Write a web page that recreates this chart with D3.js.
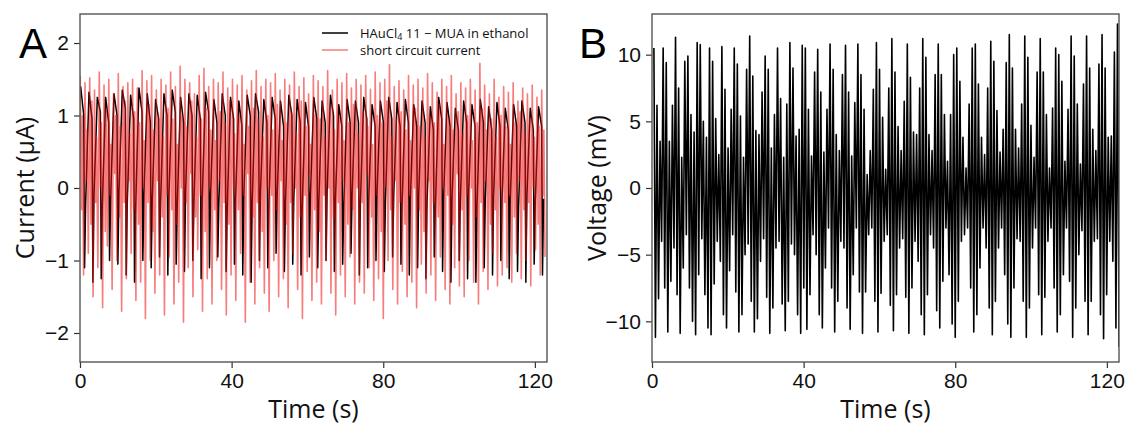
<!DOCTYPE html>
<html><head><meta charset="utf-8">
<script src="https://cdn.jsdelivr.net/npm/d3@7"></script>
<style>body{margin:0;background:#fff}svg{display:block}</style>
</head><body><svg id="c" width="1132" height="425"></svg>
<script>
// ---------- data ----------
const xTicks = [0, 40, 80, 120];
const aYTicks = [-2, -1, 0, 1, 2];
const bYTicks = [-10, -5, 0, 5, 10];
const legendLabels = ["HAuCl4 11 − MUA in ethanol", "short circuit current"];

// Panel A, black series: per oscillation cycle (top, pre-drop, bottom, knee) in µA
const blackTop = [1.4,1.32,1.25,1.25,1.3, 1.35,1.28,1.38,1.3,1.22, 1.3,1.35,1.25,1.3,1.28, 1.32,1.22,1.3,1.25,1.2,
  1.28,1.3,1.22,1.25,1.2, 1.28,1.22,1.18,1.25,1.2, 1.28,1.15,1.22,1.2,1.25, 1.15,1.2,1.25,1.18,1.22,
  1.15,1.2,1.12,1.25,1.18, 1.1,1.2,1.15,1.22,1.12, 1.18,1.1,1.15,1.2,1.1, 1.12];
const blackPre = [1.0,0.95,1.05,0.9,1.0, 1.1,0.95,1.05,0.9,0.95, 1.0,1.05,0.9,1.0,0.95, 1.05,0.9,1.0,0.95,0.85,
  1.0,1.05,0.9,0.95,0.85, 1.0,0.9,0.85,0.95,0.9, 1.0,0.85,0.9,0.9,0.95, 0.85,0.9,0.95,0.85,0.9,
  0.85,0.9,0.8,0.95,0.85, 0.8,0.9,0.85,0.9,0.8, 0.85,0.8,0.85,0.9,0.8, 0.85];
const blackBottom = [-1.1,-1.3,-1.25,-1.0,-1.05, -1.2,-1.3,-1.0,-1.1,-0.95, -1.2,-1.05,-1.15,-1.0,-1.25,
  -1.1,-0.95,-1.15,-1.05,-1.2, -1.3,-1.0,-1.1,-0.9,-1.15, -1.05,-1.2,-0.95,-1.1,-1.0,
  -1.15,-1.05,-0.9,-1.2,-1.1, -1.0,-1.15,-0.95,-1.05,-1.2, -1.1,-1.25,-0.95,-1.15,-1.3,
  -1.0,-1.25,-1.3,-1.1,-1.2, -1.0,-1.25,-1.15,-1.3,-1.05, -1.2];
const blackKnee = [-0.2,-0.1,-0.25,-0.15,-0.05, -0.2,-0.3,-0.1,-0.15,-0.2, -0.1,-0.25,-0.05,-0.2,-0.15,
  -0.1,-0.2,-0.3,-0.15,-0.1, -0.2,-0.05,-0.25,-0.1,-0.2, -0.15,-0.3,-0.1,-0.2,-0.05,
  -0.15,-0.25,-0.1,-0.2,-0.15, -0.05,-0.2,-0.1,-0.25,-0.15, -0.1,-0.2,-0.3,-0.1,-0.15,
  -0.2,-0.05,-0.25,-0.15,-0.1, -0.2,-0.15,-0.25,-0.1,-0.2, -0.15];

// Panel A, red series: per cycle (top, dip, rebound, bottom) in µA
const redTop = [1.55,1.45,1.52,1.35,1.6,1.42,1.5,1.3,1.58,1.4,
  1.45,1.5,1.38,1.62,1.48,1.55,1.35,1.5,1.42,1.6,
  1.4,1.68,1.5,1.45,1.3,1.55,1.65,1.4,1.5,1.45,
  1.6,1.38,1.5,1.42,1.55,1.35,1.48,1.62,1.4,1.5,
  1.45,1.58,1.35,1.5,1.42,1.6,1.4,1.52,1.3,1.55,
  1.48,1.4,1.62,1.35,1.5,1.45,1.58,1.38,1.5,1.42,
  1.55,1.36,1.6,1.45,1.5,1.7,1.4,1.48,1.35,1.55,
  1.42,1.5,1.38,1.58,1.45,1.32,1.5,1.4,1.55,1.3,
  1.45,1.38,1.5,1.35,1.72,1.42,1.3,1.5,1.25,1.4,
  1.32,1.45,1.2,1.38,1.3,1.42,1.25,1.35];
const redDip = [-0.3,0.1,-0.5,-0.2,0.0,-0.6,-0.1,0.2,-0.4,-0.2,
  0.1,-0.3,-0.5,0.0,-0.2,-0.6,0.1,-0.4,-0.1,-0.3,
  -0.5,0.0,-0.2,0.2,-0.4,-0.1,-0.6,0.0,-0.3,0.1,
  -0.2,-0.5,0.0,-0.3,-0.1,0.2,-0.4,-0.2,-0.6,0.0,
  -0.1,-0.3,0.1,-0.5,-0.2,0.0,-0.4,-0.1,0.2,-0.3,
  -0.6,-0.1,0.0,-0.4,-0.2,0.1,-0.5,-0.3,0.0,-0.2,
  0.2,-0.4,-0.1,-0.6,0.0,-0.3,0.1,-0.2,-0.5,-0.1,
  0.0,-0.3,-0.6,0.1,-0.2,-0.4,0.0,-0.1,-0.5,0.2,
  -0.3,-0.1,0.0,-0.4,-0.2,0.1,-0.5,-0.3,0.0,-0.2,
  -0.1,-0.4,0.1,-0.3,-0.2,0.0,-0.5,-0.1];
const redRebound = [1.0,0.8,1.2,0.7,0.9,1.1,0.6,1.0,0.85,1.2,
  0.75,1.05,0.9,0.65,1.15,0.8,1.0,0.7,1.1,0.95,
  0.6,1.0,0.85,1.2,0.7,0.95,1.1,0.8,0.65,1.05,
  0.9,1.2,0.75,1.0,0.6,0.85,1.1,0.95,0.7,1.0,
  0.8,1.15,0.65,0.9,1.05,0.75,1.2,0.85,0.6,1.0,
  0.95,0.7,1.1,0.8,1.0,0.65,0.9,1.15,0.75,1.05,
  0.85,0.6,1.0,0.9,1.2,0.7,0.95,1.05,0.8,0.65,
  1.1,0.85,0.7,1.0,0.9,1.15,0.6,0.95,0.8,1.05,
  0.75,1.0,0.65,0.9,1.1,0.8,0.95,0.7,1.0,0.85,
  0.6,0.9,1.05,0.75,0.95,0.7,0.85,0.8];
const redBottom = [-1.2,-0.9,-1.5,-1.1,-1.65,-0.8,-1.4,-1.0,-1.7,-1.25,
  -0.9,-1.55,-1.3,-1.8,-1.0,-1.45,-1.2,-1.75,-0.95,-1.6,
  -1.3,-1.85,-1.1,-1.5,-0.85,-1.7,-1.25,-1.6,-1.0,-1.4,
  -1.75,-1.2,-1.55,-0.9,-1.85,-1.3,-1.6,-1.1,-1.45,-1.7,
  -1.0,-1.5,-1.25,-1.65,-0.9,-1.4,-1.8,-1.15,-1.55,-1.3,
  -1.6,-1.0,-1.45,-1.75,-1.2,-1.5,-0.95,-1.6,-1.3,-1.45,
  -1.1,-1.55,-1.25,-1.8,-1.0,-1.4,-1.6,-1.15,-1.5,-1.3,
  -1.65,-1.05,-1.45,-1.2,-1.55,-0.95,-1.4,-1.6,-1.1,-1.35,
  -1.5,-1.0,-1.3,-1.6,-1.15,-1.4,-0.9,-1.35,-1.2,-1.1,
  -1.3,-0.9,-1.25,-1.0,-1.35,-0.85,-1.2,-0.95];

// Panel B: successive positive peaks and negative troughs, mV
const bPeaks = [10.5,6.2,3.5,10.5,9.4,3.5,6.2,11.3,7.5,2.3,9.5,9.9,5.5,4.2,10.9,10.75,5.0,3.8,10.5,9.5,
  5.2,2.5,10.6,7.4,3.0,5.9,10.5,9.3,5.4,2.3,8.9,11.4,8.4,4.3,4.0,7.2,9.9,8.9,3.0,5.5,
  10.5,6.7,2.3,6.3,10.9,9.0,3.9,4.4,10.7,
  10.5,5.9,2.4,8.7,10.4,7.2,2.7,5.9,10.8,8.9,4.0,2.8,8.5,10.7,7.2,2.4,6.4,10.8,8.5,5.9,
  1.0,2.8,7.4,10.9,8.9,5.3,1.4,7.5,11.2,8.7,4.6,2.8,6.5,10.8,8.3,4.2,4.0,7.5,11.2,9.8,
  4.0,2.8,8.5,10.8,8.5,5.5,2.0,5.5,10.0,10.5,8.0,3.8,
  1.5,6.3,10.5,10.8,7.8,3.8,2.5,7.5,11.0,9.5,5.8,2.7,4.4,9.4,11.5,9.0,4.4,3.0,6.3,11.4,
  9.8,4.7,2.3,8.7,11.2,8.7,5.5,1.5,6.0,10.5,10.0,8.0,2.0,5.9,11.4,9.9,6.3,1.8,7.8,11.4,
  9.0,4.4,2.8,9.3,11.5,9.0,3.8,3.9,10.2,12.3];
const bTroughs = [-11.2,-8.3,-4.0,-7.5,-10.8,-7.0,-4.5,-8.0,-10.9,-6.0,-3.5,-7.5,-10.0,-11.0,-6.5,-3.8,-8.0,-10.5,-11.0,-7.2,
  -4.0,-5.5,-9.5,-10.5,-6.2,-3.5,-7.8,-10.8,-9.5,-5.0,-4.2,-8.5,-10.8,-9.8,-5.5,-3.8,-8.2,-10.9,-9.0,-4.5,
  -4.0,-8.7,-10.7,-8.5,-4.2,-5.0,-9.5,-10.9,-7.5,
  -10.6,-8.0,-3.5,-5.0,-9.5,-10.5,-6.0,-3.0,-7.5,-10.8,-8.5,-4.0,-4.5,-9.0,-10.6,-6.5,-3.0,-7.8,-10.9,-7.8,
  -3.5,-3.0,-8.5,-10.8,-7.9,-4.0,-3.5,-8.8,-10.7,-8.0,-4.5,-3.8,-8.2,-10.9,-7.5,-4.0,-5.5,-9.5,-11.0,-8.0,
  -3.5,-4.5,-9.2,-10.5,-7.0,-3.0,-6.5,-10.2,-11.2,-8.5,-4.0,-3.5,
  -3.0,-7.5,-10.8,-9.5,-6.0,-3.0,-4.5,-9.0,-11.0,-8.5,-4.5,-3.0,-6.5,-10.2,-11.2,-7.5,-3.8,-4.0,-8.5,-11.2,
  -9.0,-4.5,-3.0,-8.0,-11.0,-8.2,-4.0,-3.0,-7.5,-10.8,-9.5,-6.5,-3.0,-7.0,-11.2,-9.0,-5.0,-3.2,-8.5,-11.0,
  -8.5,-4.0,-3.8,-9.5,-11.3,-8.0,-4.0,-5.5,-10.5,-11.9];

// recording span (s)
const tEnd = 123.0;
const bFirst = 0.5, bLast = 122.8;

// ---------- layout ----------
const svg = d3.select("#c");
const W = 467, H = 348, topM = 14;
const panels = [{left: 80}, {left: 652}];
const FONT_T = "'Liberation Sans', Arial, sans-serif";
const FONT_L = "'Open Sans', 'Liberation Sans', sans-serif";

const x = d3.scaleLinear().domain([0, 123.2]).range([0, W]);
const yA = d3.scaleLinear().domain([-2.4, 2.4]).range([H, 0]);
const yB = d3.scaleLinear().domain([-13.05, 13.05]).range([H, 0]);

// build series point lists
const blackPts = [];
const Pb = tEnd / blackTop.length;
blackTop.forEach((v, i) => {
  const t0 = i * Pb;
  blackPts.push([t0 + 0.08 * Pb, v]);
  blackPts.push([t0 + 0.45 * Pb, blackPre[i]]);
  blackPts.push([t0 + 0.55 * Pb, blackBottom[i]]);
  blackPts.push([t0 + 0.68 * Pb, blackKnee[i]]);
});
const redPts = [];
const Pr = tEnd / redTop.length;
redTop.forEach((v, i) => {
  const t0 = i * Pr;
  redPts.push([t0 + 0.05 * Pr, v]);
  redPts.push([t0 + 0.3 * Pr, redDip[i]]);
  redPts.push([t0 + 0.5 * Pr, redRebound[i]]);
  redPts.push([t0 + 0.75 * Pr, redBottom[i]]);
});
const bPts = [];
const hB = (bLast - bFirst) / (2 * (bPeaks.length - 1));
bPeaks.forEach((v, i) => {
  const t = bFirst + 2 * i * hB;
  bPts.push([t, v]);
  bPts.push([t + hB, bTroughs[i]]);
});

const defs = svg.append("defs");
const fmt = d3.format("d");
function makePanel(p, idx, yScale, yTicks, ylabel, letter, letterDx) {
  const g = svg.append("g").attr("transform", `translate(${p.left},${topM})`);
  defs.append("clipPath").attr("id", "clip" + idx)
    .append("rect").attr("width", W).attr("height", H);
  const plot = g.append("g").attr("clip-path", `url(#clip${idx})`);
  const ax = g.append("g").attr("transform", `translate(0,${H})`)
    .call(d3.axisBottom(x).tickValues(xTicks).tickFormat(fmt).tickSize(6).tickPadding(5));
  const ay = g.append("g")
    .call(d3.axisLeft(yScale).tickValues(yTicks).tickFormat(fmt).tickSize(6).tickPadding(5));
  [ax, ay].forEach(a => {
    a.select(".domain").remove();
    a.selectAll("line").attr("stroke", "#333").attr("stroke-width", 1.2);
    a.selectAll("text").attr("font-family", FONT_T).attr("font-size", 21).attr("fill", "#111");
  });
  g.append("rect").attr("width", W).attr("height", H)
    .attr("fill", "none").attr("stroke", "#555").attr("stroke-width", 1.4);
  g.append("text").attr("x", W / 2).attr("y", H + 56)
    .attr("text-anchor", "middle").attr("font-family", FONT_L).attr("font-size", 25)
    .attr("fill", "#111").text("Time (s)");
  g.append("text").attr("transform", `translate(-46,${H / 2}) rotate(-90)`)
    .attr("text-anchor", "middle").attr("font-family", FONT_L).attr("font-size", 25)
    .attr("fill", "#111").text(ylabel);
  g.append("text").attr("x", letterDx).attr("y", 44)
    .attr("font-family", FONT_T).attr("font-size", 42).attr("fill", "#000").text(letter);
  return plot;
}

const plotA = makePanel(panels[0], 0, yA, aYTicks, "Current (μA)", "A", -61);
const plotB = makePanel(panels[1], 1, yB, bYTicks, "Voltage (mV)", "B", -73);

const lineA = d3.line().x(d => x(d[0])).y(d => yA(d[1]));
const lineB = d3.line().x(d => x(d[0])).y(d => yB(d[1]));

plotA.append("path").attr("d", lineA(blackPts)).attr("fill", "none")
  .attr("stroke", "#000").attr("stroke-width", 1.5).attr("stroke-linejoin", "round");
plotA.append("path").attr("d", lineA(redPts)).attr("fill", "none")
  .attr("stroke", "#f01010").attr("stroke-opacity", 0.55).attr("stroke-width", 1.6)
  .attr("stroke-linejoin", "round");
plotB.append("path").attr("d", lineB(bPts)).attr("fill", "none")
  .attr("stroke", "#000").attr("stroke-width", 1.6).attr("stroke-linejoin", "round");

// legend
const lg = svg.append("g").attr("transform", "translate(322,33)");
const legColors = [{c: "#000", o: 1}, {c: "#f01010", o: 0.55}];
legendLabels.forEach((lab, i) => {
  const row = lg.append("g").attr("transform", `translate(0,${i * 17})`);
  row.append("line").attr("x1", 0).attr("x2", 26).attr("stroke", legColors[i].c)
    .attr("stroke-opacity", legColors[i].o).attr("stroke-width", 1.5);
  const t = row.append("text").attr("x", 38).attr("y", 5)
    .attr("font-family", FONT_L).attr("font-size", 13).attr("fill", "#111");
  if (i === 0) {
    t.append("tspan").text("HAuCl");
    t.append("tspan").attr("font-size", 9).attr("dy", 2).text("4");
    t.append("tspan").attr("dy", -2).text(" 11 − MUA in ethanol");
  } else {
    t.text(lab);
  }
});
</script></body></html>
